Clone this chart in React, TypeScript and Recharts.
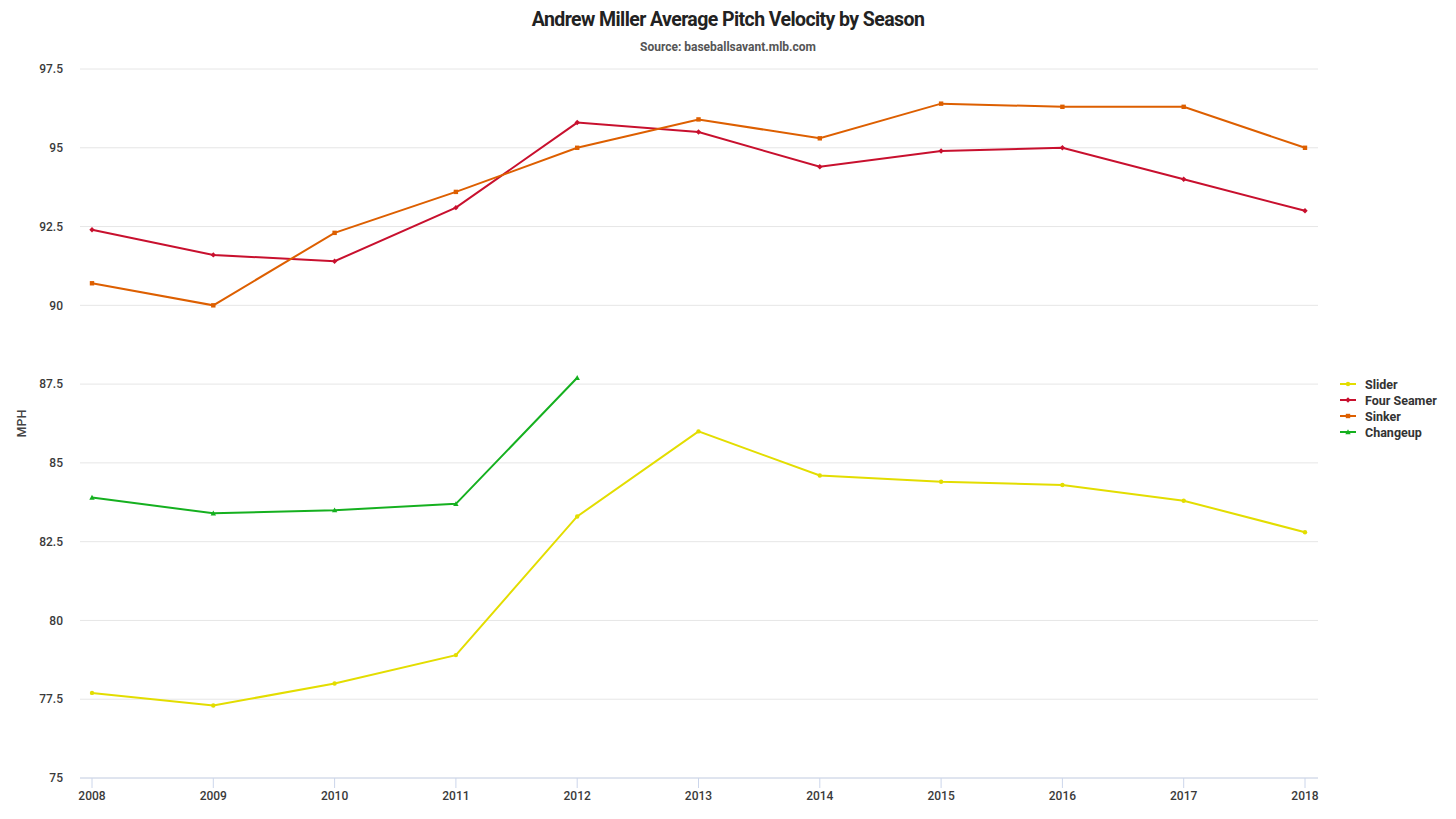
import React from "react";
import { LineChart, Line, XAxis, YAxis, CartesianGrid } from "recharts";

const seasons = ["2008", "2009", "2010", "2011", "2012", "2013", "2014", "2015", "2016", "2017", "2018"];
const slider = [77.7, 77.3, 78.0, 78.9, 83.3, 86.0, 84.6, 84.4, 84.3, 83.8, 82.8];
const fourSeamer = [92.4, 91.6, 91.4, 93.1, 95.8, 95.5, 94.4, 94.9, 95.0, 94.0, 93.0];
const sinker = [90.7, 90.0, 92.3, 93.6, 95.0, 95.9, 95.3, 96.4, 96.3, 96.3, 95.0];
const changeup: (number | null)[] = [83.9, 83.4, 83.5, 83.7, 87.7, null, null, null, null, null, null];
const yTicks = [75, 77.5, 80, 82.5, 85, 87.5, 90, 92.5, 95, 97.5];

const seriesDefs = [
  { key: "slider", name: "Slider", color: "#e3dd00", shape: "circle" },
  { key: "fourSeamer", name: "Four Seamer", color: "#c8102e", shape: "diamond" },
  { key: "sinker", name: "Sinker", color: "#dd5f00", shape: "square" },
  { key: "changeup", name: "Changeup", color: "#15b01f", shape: "triangle" },
];

const data = seasons.map((s, i) => ({
  season: s,
  slider: slider[i],
  fourSeamer: fourSeamer[i],
  sinker: sinker[i],
  changeup: changeup[i],
}));

const FONT = "Roboto, 'Noto Sans', sans-serif";

function Marker({ cx, cy, color, shape }: { cx: number; cy: number; color: string; shape: string }) {
  if (cx == null || cy == null || isNaN(cx) || isNaN(cy)) return null;
  const r = 2.2;
  if (shape === "circle") return <circle cx={cx} cy={cy} r={r} fill={color} />;
  if (shape === "square") return <rect x={cx - r} y={cy - r} width={2 * r} height={2 * r} fill={color} />;
  if (shape === "diamond")
    return <path d={`M${cx},${cy - r - 0.5}L${cx + r + 0.5},${cy}L${cx},${cy + r + 0.5}L${cx - r - 0.5},${cy}Z`} fill={color} />;
  return <path d={`M${cx},${cy - r - 0.5}L${cx + r + 0.5},${cy + r}L${cx - r - 0.5},${cy + r}Z`} fill={color} />;
}

function makeDot(color: string, shape: string) {
  return (props: any) => <Marker key={`${props.index}`} cx={props.cx} cy={props.cy} color={color} shape={shape} />;
}

function LegendBox() {
  return (
    <div
      style={{
        position: "absolute",
        left: 1340,
        top: 376,
        fontFamily: FONT,
        fontSize: 12.5,
        fontWeight: 700,
        color: "#333",
      }}
    >
      {seriesDefs.map((s) => (
        <div key={s.key} style={{ display: "flex", alignItems: "center", height: 16 }}>
          <svg width={16} height={12} style={{ marginRight: 9 }}>
            <line x1={0} y1={6} x2={16} y2={6} stroke={s.color} strokeWidth={2} />
            <Marker cx={8} cy={6} color={s.color} shape={s.shape} />
          </svg>
          <span>{s.name}</span>
        </div>
      ))}
    </div>
  );
}

export default function App() {
  return (
    <div style={{ position: "absolute", left: 0, top: 0, width: 1456, height: 819, background: "#fff", fontFamily: FONT }}>
      <div
        style={{
          position: "absolute",
          top: 7,
          left: 0,
          width: 1456,
          textAlign: "center",
          fontSize: 20,
          fontWeight: 700,
          color: "#222",
          letterSpacing: -0.6,
          transform: "scaleX(0.975)",
        }}
      >
        Andrew Miller Average Pitch Velocity by Season
      </div>
      <div
        style={{
          position: "absolute",
          top: 40,
          left: 0,
          width: 1456,
          textAlign: "center",
          fontSize: 12,
          fontWeight: 700,
          color: "#555",
        }}
      >
        Source: baseballsavant.mlb.com
      </div>
      <LineChart
        width={1456}
        height={819}
        data={data}
        margin={{ top: 69, right: 138, bottom: 0, left: 0 }}
      >
        <CartesianGrid horizontal vertical={false} stroke="#e6e6e6" />
        <XAxis
          dataKey="season"
          height={41}
          padding={{ left: 12, right: 13 }}
          axisLine={{ stroke: "#ccd6eb" }}
          tickLine={{ stroke: "#ccd6eb" }}
          tickSize={10}
          tickMargin={3}
          interval={0}
          tick={{ fill: "#3a3a3a", fontSize: 12, fontWeight: 500, fontFamily: FONT }}
        />
        <YAxis
          width={80}
          domain={[75, 97.5]}
          ticks={yTicks}
          axisLine={false}
          tickLine={false}
          tickSize={0}
          tickMargin={17}
          interval={0}
          tick={{ fill: "#3a3a3a", fontSize: 12, fontWeight: 500, fontFamily: FONT }}
          label={{
            value: "MPH",
            angle: -90,
            position: "insideLeft",
            offset: 22,
            style: { fill: "#444", fontSize: 12.5, fontWeight: 500, fontFamily: FONT, textAnchor: "middle" },
          }}
        />
        {seriesDefs.map((s) => (
          <Line
            key={s.key}
            type="linear"
            dataKey={s.key}
            name={s.name}
            stroke={s.color}
            strokeWidth={2}
            dot={makeDot(s.color, s.shape)}
            activeDot={false}
            connectNulls={false}
            isAnimationActive={false}
          />
        ))}
      </LineChart>
      <LegendBox />
    </div>
  );
}
